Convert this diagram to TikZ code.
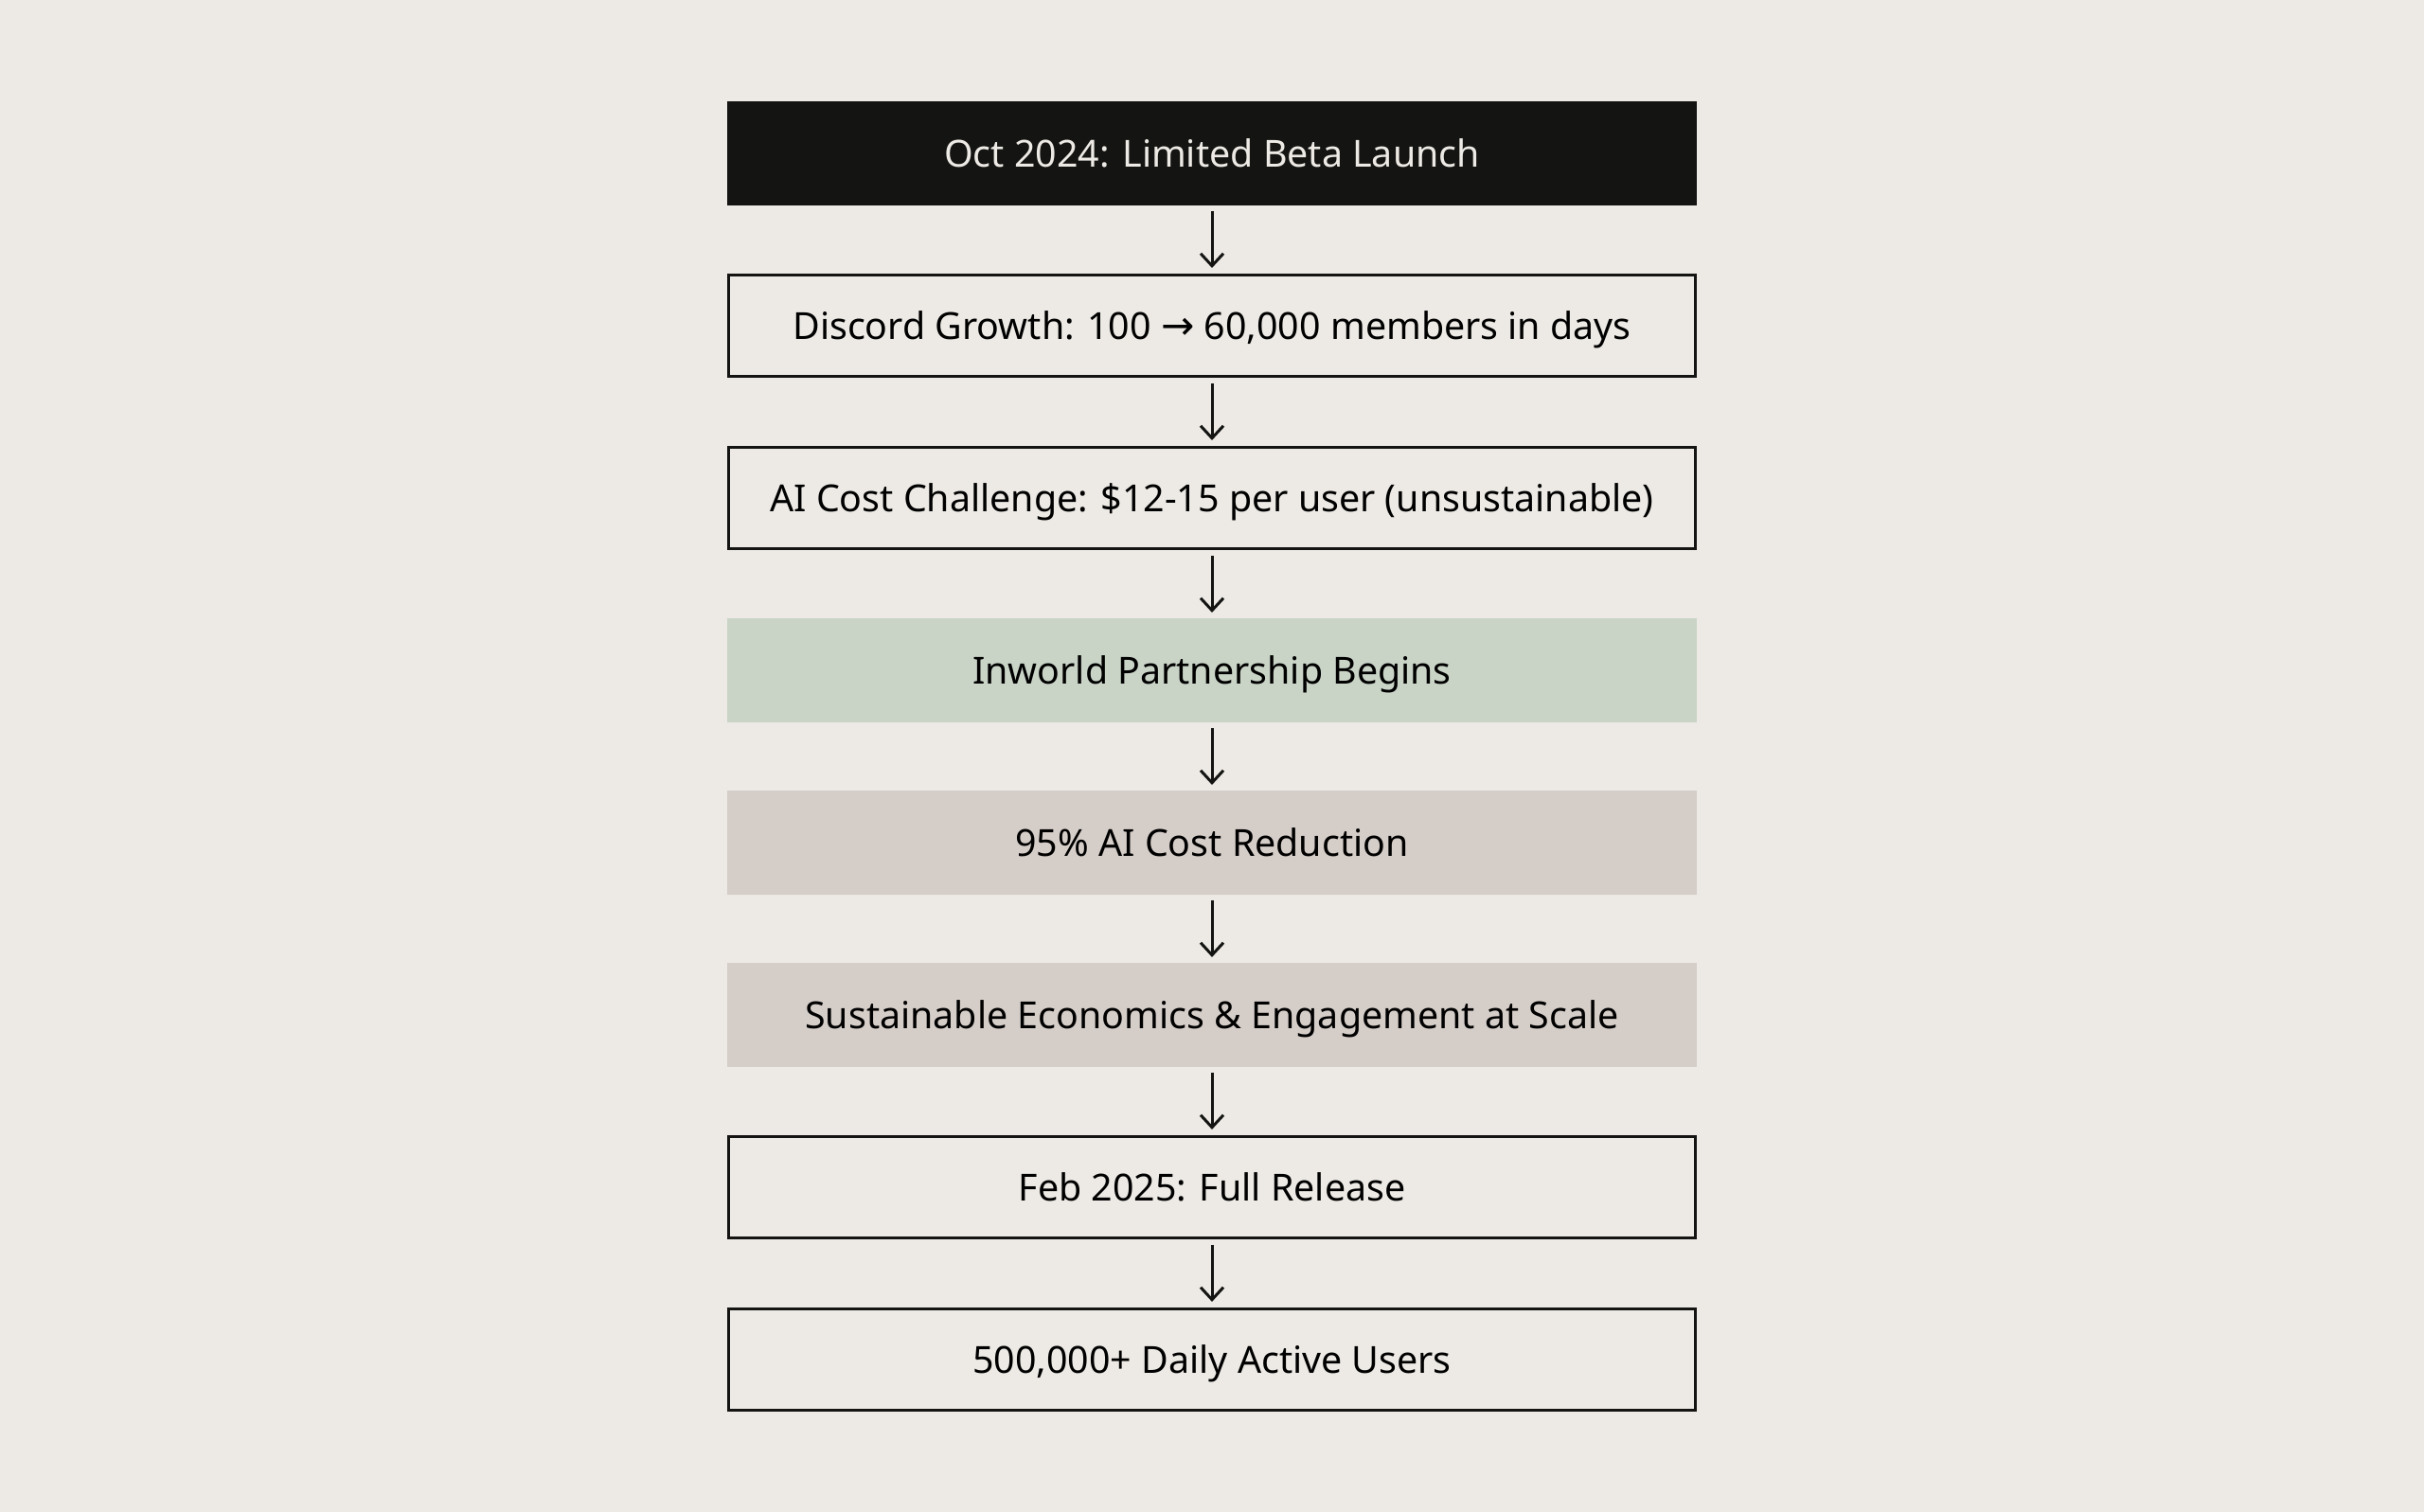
\documentclass[tikz,border=0pt]{standalone}
\usepackage{fontspec}
\setmainfont{Noto Sans}
\newfontfamily\arrowfont{DejaVu Sans}
\usetikzlibrary{positioning,arrows.meta}

\definecolor{paper}{HTML}{EDEAE5}
\definecolor{ink}{HTML}{141412}
\definecolor{sage}{HTML}{C9D4C7}
\definecolor{stone}{HTML}{D5CDC8}

\begin{document}
\begin{tikzpicture}[
                        node distance=0.72cm,
                        auto,
                        block/.style={
                            rectangle,
                            draw=ink,
                            line width=0.85pt,
                            align=center,
                            minimum width=10.21cm,
                            minimum height=1.07cm,
                            text height=0.84em,
                            text depth=0pt,
                            font=\fontsize{11.2}{14}\selectfont
                        },
                        line/.style={
                            draw=ink,
                            line width=0.85pt,
                            -{Straight Barb[length=1.3mm,width=2.4mm]},
                            shorten <=0.06cm,
                            shorten >=0.06cm
                        }]

                        % canvas
                        \fill [paper] (0,0) rectangle (25.6,-15.97);
                        \useasboundingbox (0,0) rectangle (25.6,-15.97);

                        \node (beta_launch) [block, fill=ink, text=paper] at (12.8,-1.62) {Oct 2024: Limited Beta Launch};
                        \node (discord_growth) [block, fill=paper, below=of beta_launch] {Discord Growth: 100 {\arrowfont\fontsize{12}{14}\selectfont →} 60,000 members in days};
                        \node (cost_challenge) [block, fill=paper, below=of discord_growth] {AI Cost Challenge: \$12-15 per user (unsustainable)};
                        \node (partnership) [block, fill=sage, draw=sage, below=of cost_challenge] {Inworld Partnership Begins};
                        \node (cost_reduction) [block, fill=stone, draw=stone, below=of partnership] {95\% AI Cost Reduction};
                        \node (economics) [block, fill=stone, draw=stone, below=of cost_reduction] {Sustainable Economics \& Engagement at Scale};
                        \node (full_release) [block, fill=paper, below=of economics] {Feb 2025: Full Release};
                        \node (daily_users) [block, fill=paper, below=of full_release] {500,000+ Daily Active Users};

                        \draw [line] (beta_launch) -- (discord_growth);
                        \draw [line] (discord_growth) -- (cost_challenge);
                        \draw [line] (cost_challenge) -- (partnership);
                        \draw [line] (partnership) -- (cost_reduction);
                        \draw [line] (cost_reduction) -- (economics);
                        \draw [line] (economics) -- (full_release);
                        \draw [line] (full_release) -- (daily_users);

                    \end{tikzpicture}
\end{document}
